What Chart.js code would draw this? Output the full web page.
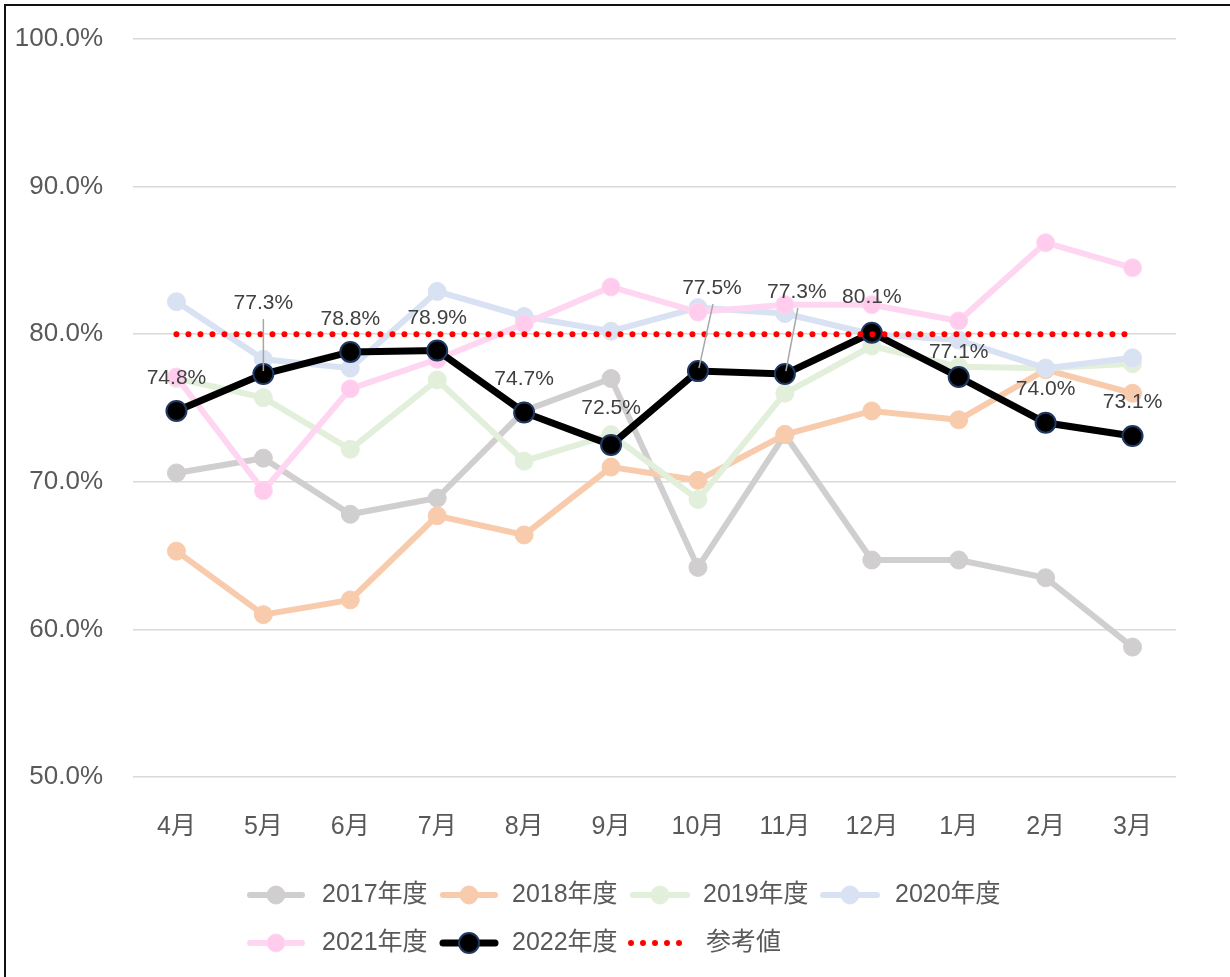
<!DOCTYPE html>
<html>
<head>
<meta charset="utf-8">
<script src="https://cdn.jsdelivr.net/npm/chart.js@4.4.1/dist/chart.umd.min.js"></script>
<style>
  html, body { margin: 0; padding: 0; background: #fff; overflow: hidden; }
  #wrap { position: absolute; left: 0; top: 0; width: 1230px; height: 977px; }
  #frame { position: absolute; left: 4px; top: 4px; width: 1400px; height: 1200px; border: 2px solid #111; box-sizing: border-box; pointer-events: none; }
  canvas { position: absolute; left: 0; top: 0; }
</style>
</head>
<body>
<div id="wrap">
  <canvas id="c" width="1230" height="977"></canvas>
  <div id="frame"></div>
</div>
<script>
// ---- data ----
const categories = ['4月','5月','6月','7月','8月','9月','10月','11月','12月','1月','2月','3月'];
const fy2017 = [70.6, 71.6, 67.8, 68.9, 74.8, 77.0, 64.2, 73.2, 64.7, 64.7, 63.5, 58.8];
const fy2018 = [65.3, 61.0, 62.0, 67.7, 66.4, 71.0, 70.1, 73.2, 74.8, 74.2, 77.6, 76.0];
const fy2019 = [77.0, 75.7, 72.2, 76.9, 71.4, 73.2, 68.8, 76.0, 79.2, 77.8, 77.7, 78.0];
const fy2020 = [82.2, 78.3, 77.7, 82.9, 81.2, 80.2, 81.8, 81.4, 80.0, 79.6, 77.7, 78.4];
const fy2021 = [77.1, 69.4, 76.3, 78.3, 80.7, 83.2, 81.5, 82.0, 82.0, 80.9, 86.2, 84.5];
const fy2022 = [74.8, 77.3, 78.8, 78.9, 74.7, 72.5, 77.5, 77.3, 80.1, 77.1, 74.0, 73.1];
const reference = [80, 80, 80, 80, 80, 80, 80, 80, 80, 80, 80, 80];
const seriesNames = ['2017年度','2018年度','2019年度','2020年度','2021年度','2022年度','参考値'];
const yTicks = [50, 60, 70, 80, 90, 100];

// label placement offsets for 2022 data labels (dx, dy, leader line?)
const labelOffsets = [
  [0,-33,false],[0,-71,true],[0,-33,false],[0,-32,false],[0,-33,false],[0,-37,false],
  [14,-83,true],[12,-82,true],[0,-36,false],[0,-25,false],[0,-34,false],[0,-34,false]
];

const FONT = "'Liberation Sans', 'Noto Sans CJK JP', sans-serif";
const TEXT = '#595959';

function lineDs(label, data, color, ptFill, order) {
  return {
    label, data, order,
    borderColor: color, backgroundColor: ptFill || color,
    pointBackgroundColor: ptFill || color, pointBorderColor: color,
    borderWidth: 6, pointRadius: 9, pointBorderWidth: 1,
    tension: 0, fill: false
  };
}

const datasets = [
  lineDs(seriesNames[0], fy2017, '#D0CECE', null, 6),
  lineDs(seriesNames[1], fy2018, '#F8CBAD', null, 5),
  lineDs(seriesNames[2], fy2019, '#E2EFDA', null, 4),
  lineDs(seriesNames[3], fy2020, '#D9E2F3', null, 3),
  lineDs(seriesNames[4], fy2021, '#FFD6F1', '#FFCCEE', 2),
  {
    label: seriesNames[5], data: fy2022, order: 1,
    borderColor: '#000', backgroundColor: '#000',
    pointBackgroundColor: '#000', pointBorderColor: '#203864',
    borderWidth: 7, pointRadius: 10, pointBorderWidth: 2, tension: 0, fill: false
  },
  {
    label: seriesNames[6], data: reference, order: 0,
    borderColor: '#FF0000', borderWidth: 6, borderDash: [0, 12], borderCapStyle: 'round',
    pointRadius: 0, tension: 0, fill: false
  }
];

// legend layout: [datasetIndex, sampleX0, sampleX1, textX, y]
const legendItems = [
  [0, 247, 305, 322, 895],
  [1, 440, 498, 512, 895],
  [2, 630, 690, 703, 895],
  [3, 820, 880, 895, 895],
  [4, 247, 305, 322, 943],
  [5, 440, 498, 512, 943],
  [6, 628, 690, 706, 943]
];

const dataLabelPlugin = {
  id: 'dataLabels',
  afterDatasetsDraw(chart) {
    const ctx = chart.ctx;
    const meta = chart.getDatasetMeta(5);
    ctx.save();
    ctx.font = '21px ' + FONT;
    ctx.textAlign = 'center';
    ctx.textBaseline = 'middle';
    meta.data.forEach((pt, i) => {
      const [dx, dy, leader] = labelOffsets[i];
      const lx = pt.x + dx, ly = pt.y + dy;
      if (leader) {
        ctx.strokeStyle = '#A6A6A6';
        ctx.lineWidth = 1.5;
        ctx.beginPath();
        ctx.moveTo(lx + (dx ? 1 : 0), ly + 16);
        ctx.lineTo(pt.x + (dx ? 1 : 0), pt.y - 3);
        ctx.stroke();
      }
      ctx.fillStyle = '#404040';
      ctx.fillText(fy2022[i].toFixed(1) + '%', lx, ly);
    });
    ctx.restore();
  }
};

const legendPlugin = {
  id: 'customLegend',
  afterDraw(chart) {
    const ctx = chart.ctx;
    ctx.save();
    legendItems.forEach(([di, x0, x1, tx, y]) => {
      const ds = chart.data.datasets[di];
      ctx.save();
      ctx.strokeStyle = ds.borderColor;
      ctx.lineWidth = ds.borderWidth;
      ctx.lineCap = 'round';
      if (ds.borderDash) ctx.setLineDash(ds.borderDash);
      ctx.beginPath();
      ctx.moveTo(x0 + 3, y);
      ctx.lineTo(x1 - 3, y);
      ctx.stroke();
      ctx.setLineDash([]);
      if (ds.pointRadius) {
        ctx.beginPath();
        ctx.arc((x0 + x1) / 2, y, ds.pointRadius, 0, Math.PI * 2);
        ctx.fillStyle = ds.pointBackgroundColor;
        ctx.fill();
        ctx.lineWidth = ds.pointBorderWidth;
        ctx.strokeStyle = ds.pointBorderColor;
        ctx.stroke();
      }
      ctx.restore();
      ctx.font = '25px ' + FONT;
      ctx.fillStyle = TEXT;
      ctx.textAlign = 'left';
      ctx.textBaseline = 'middle';
      ctx.fillText(ds.label, tx, y);
    });
    ctx.restore();
  }
};

new Chart(document.getElementById('c'), {
  type: 'line',
  data: { labels: categories, datasets },
  options: {
    responsive: false,
    animation: false,
    devicePixelRatio: 1,
    layout: { padding: { left: 0, top: 39, right: 54, bottom: 120 } },
    plugins: { legend: { display: false }, tooltip: { enabled: false } },
    scales: {
      x: {
        offset: true,
        grid: { display: false, drawTicks: false },
        border: { display: false },
        ticks: { color: TEXT, font: { family: FONT, size: 25 }, padding: 35 },
        afterFit(s) { s.height = 80; s.paddingLeft = 0; s.paddingRight = 0; }
      },
      y: {
        min: 50, max: 100,
        afterBuildTicks(s) { s.ticks = yTicks.map(v => ({ value: v })); },
        grid: { color: '#D9D9D9', lineWidth: 1.5, drawTicks: false },
        border: { display: false },
        ticks: {
          color: TEXT, font: { family: FONT, size: 26 }, padding: 30,
          callback: v => v.toFixed(1) + '%'
        },
        afterFit(s) { s.width = 133; s.paddingTop = 0; s.paddingBottom = 0; }
      }
    }
  },
  plugins: [dataLabelPlugin, legendPlugin]
});
</script>
</body>
</html>
